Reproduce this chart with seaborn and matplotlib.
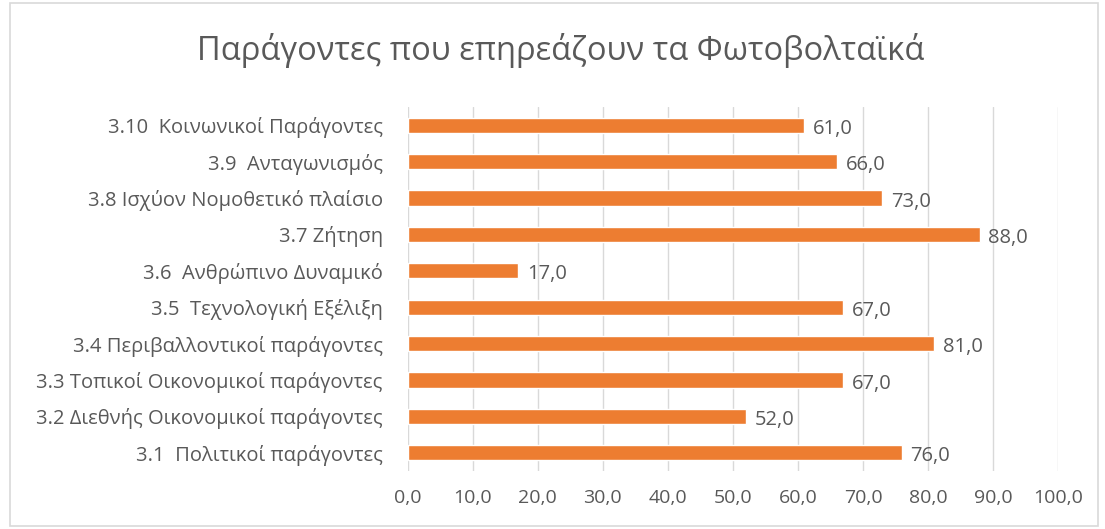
import pandas as pd
import matplotlib
matplotlib.use("Agg")
from matplotlib import pyplot as plt
from matplotlib.patches import Rectangle
import seaborn as sns

categories = [
    "3.10  Κοινωνικοί Παράγοντες",
    "3.9  Ανταγωνισμός",
    "3.8 Ισχύον Νομοθετικό πλαίσιο",
    "3.7 Ζήτηση",
    "3.6  Ανθρώπινο Δυναμικό",
    "3.5  Τεχνολογική Εξέλιξη",
    "3.4 Περιβαλλοντικοί παράγοντες",
    "3.3 Τοπικοί Οικονομικοί παράγοντες",
    "3.2 Διεθνής Οικονομικοί παράγοντες",
    "3.1  Πολιτικοί παράγοντες",
]
values = [61.0, 66.0, 73.0, 88.0, 17.0, 67.0, 81.0, 67.0, 52.0, 76.0]
x_ticks = [0, 10, 20, 30, 40, 50, 60, 70, 80, 90, 100]

df = pd.DataFrame({"factor": categories, "score": values})

sns.set_theme(style="white")
plt.rcParams['font.family'] = ['Open Sans', 'DejaVu Sans']
text_color = '#595959'

fig = plt.figure(figsize=(11.05, 5.29), dpi=100)
ax = fig.add_axes([0.369, 0.1096, 0.5885, 0.6881])

sns.barplot(data=df, x="score", y="factor", orient="h", color="#ED7D31",
            saturation=1, width=0.42, ax=ax)

ax.set_xlim(0, 100)
ax.set_xticks(x_ticks)
ax.set_xticklabels([f"{t:.1f}".replace(".", ",") for t in x_ticks],
                   fontsize=14, color=text_color)
ax.tick_params(axis='y', labelsize=14.5, labelcolor=text_color, length=0, pad=18)
ax.tick_params(axis='x', length=0, pad=13)
ax.xaxis.grid(True, color='#D9D9D9', linewidth=1)
ax.set_axisbelow(True)
ax.set_xlabel("")
ax.set_ylabel("")
for s in ax.spines.values():
    s.set_visible(False)

# data labels with decimal comma
for i, v in enumerate(values):
    ax.text(v + 1.3, i + 0.1, f"{v:.1f}".replace(".", ","), va='center', ha='left',
            fontsize=14.5, color=text_color)

fig.text(0.507, 0.905, "Παράγοντες που επηρεάζουν τα Φωτοβολταϊκά",
         ha='center', va='center', fontsize=23.5, color=text_color)

# chart border like an office chart
fig.patches.append(Rectangle((0.009, 0.005), 0.985, 0.99, transform=fig.transFigure,
                             fill=False, edgecolor='#D9D9D9', linewidth=1.2))

plt.savefig("out.png", dpi=100)
